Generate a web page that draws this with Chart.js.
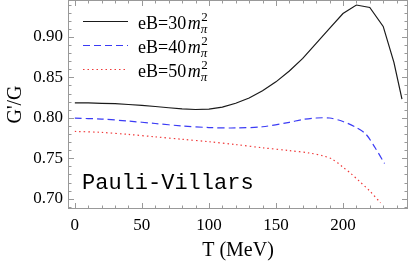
<!DOCTYPE html>
<html>
<head>
<meta charset="utf-8">
<script src="https://cdn.jsdelivr.net/npm/chart.js@4.4.1/dist/chart.umd.min.js"></script>
<style>
html, body { margin: 0; padding: 0; background: #fff; }
</style>
</head>
<body>
<canvas id="chart" width="409" height="267"></canvas>
<script>
// Data
const temp30 = [0, 10, 20, 30, 40, 50, 60, 70, 80, 90, 100, 110, 120, 130, 140, 150, 160, 170, 180, 190, 200, 210, 220, 230, 238, 244];
const ratio30 = [0.8185, 0.8185, 0.818, 0.8175, 0.8165, 0.8155, 0.814, 0.8125, 0.811, 0.8103, 0.8108, 0.8133, 0.818, 0.8245, 0.8335, 0.8445, 0.858, 0.8735, 0.892, 0.9105, 0.929, 0.9395, 0.9365, 0.913, 0.8685, 0.823];

const temp40 = [0, 20, 40, 60, 80, 100, 120, 140, 160, 170, 180, 190, 200, 210, 217, 224, 231];
const ratio40 = [0.7996, 0.7985, 0.796, 0.793, 0.790, 0.788, 0.7875, 0.789, 0.7945, 0.798, 0.7998, 0.7998, 0.7955, 0.788, 0.780, 0.763, 0.7436];

const temp50 = [0, 20, 40, 60, 80, 100, 120, 140, 160, 175, 185, 192, 200, 206, 212, 220, 228];
const ratio50 = [0.7832, 0.782, 0.7795, 0.7765, 0.7735, 0.7705, 0.767, 0.763, 0.7595, 0.7565, 0.753, 0.749, 0.739, 0.731, 0.722, 0.7095, 0.695];

const fieldLabels = ['eB=30', 'eB=40', 'eB=50'];
const xTickLabels = [0, 50, 100, 150, 200];
const yTickLabels = [0.70, 0.75, 0.80, 0.85, 0.90];

const serif = 'Liberation Serif';
const frameColor = '#999999';

function toPoints(xs, ys) {
    return xs.map((x, i) => ({ x: x, y: ys[i] }));
}

// Mathematica-style frame with inward ticks on all four sides
const frameTicks = {
    id: 'frameTicks',
    afterDatasetsDraw(chart) {
        const { ctx, chartArea: a, scales: { x, y } } = chart;
        ctx.save();
        ctx.strokeStyle = frameColor;
        ctx.lineWidth = 1;
        ctx.strokeRect(a.left + 0.5, a.top + 0.5, a.right - a.left - 1, a.bottom - a.top - 1);
        ctx.beginPath();
        for (let t = 0; t <= 240; t += 10) {
            const px = Math.round(x.getPixelForValue(t)) + 0.5;
            const len = t % 50 === 0 ? 6 : 3.5;
            ctx.moveTo(px, a.bottom);
            ctx.lineTo(px, a.bottom - len);
            ctx.moveTo(px, a.top);
            ctx.lineTo(px, a.top + len);
        }
        for (let k = 69; k <= 94; k++) {
            const v = k / 100;
            const py = Math.round(y.getPixelForValue(v)) + 0.5;
            const len = k % 5 === 0 ? 6 : 3.5;
            ctx.moveTo(a.left, py);
            ctx.lineTo(a.left + len, py);
            ctx.moveTo(a.right, py);
            ctx.lineTo(a.right - len, py);
        }
        ctx.stroke();
        ctx.restore();
    }
};

// Legend with m_pi^2 and the scheme name
const legendNotes = {
    id: 'legendNotes',
    afterDraw(chart) {
        const ctx = chart.ctx;
        ctx.save();
        chart.data.datasets.forEach((ds, i) => {
            const ly = 21 + i * 24;
            ctx.strokeStyle = ds.borderColor;
            ctx.lineWidth = ds.borderWidth;
            ctx.setLineDash(ds.borderDash || []);
            ctx.beginPath();
            ctx.moveTo(83, ly + 0.5);
            ctx.lineTo(128, ly + 0.5);
            ctx.stroke();
            ctx.setLineDash([]);

            ctx.fillStyle = '#000';
            ctx.textBaseline = 'alphabetic';
            ctx.textAlign = 'left';
            let tx = 138;
            const base = ly + 8;
            ctx.font = '18px "' + serif + '"';
            ctx.fillText(fieldLabels[i], tx, base);
            tx += ctx.measureText(fieldLabels[i]).width + 1.5;
            ctx.font = 'italic 18px "' + serif + '"';
            ctx.fillText('m', tx, base);
            tx += ctx.measureText('m').width;
            ctx.font = 'italic 13px "' + serif + '"';
            ctx.fillText('\u03c0', tx, base + 4);
            ctx.font = '13px "' + serif + '"';
            ctx.fillText('2', tx + 0.5, base - 8);
        });
        ctx.font = '22px "Liberation Mono"';
        ctx.fillStyle = '#000';
        ctx.fillText('Pauli-Villars', 82, 189);
        ctx.restore();
    }
};

new Chart(document.getElementById('chart'), {
    type: 'line',
    data: {
        datasets: [
            {
                label: fieldLabels[0],
                data: toPoints(temp30, ratio30),
                borderColor: '#1a1a1a',
                borderWidth: 1.2,
                tension: 0
            },
            {
                label: fieldLabels[1],
                data: toPoints(temp40, ratio40),
                borderColor: '#3b3bf5',
                borderWidth: 1.2,
                borderDash: [7, 4],
                tension: 0.3
            },
            {
                label: fieldLabels[2],
                data: toPoints(temp50, ratio50),
                borderColor: '#f03a3a',
                borderWidth: 1.2,
                borderDash: [1.5, 3],
                tension: 0.3
            }
        ]
    },
    options: {
        responsive: false,
        animation: false,
        layout: { padding: { top: 0, right: 1, left: 0, bottom: 0 } },
        elements: { point: { radius: 0 } },
        plugins: {
            legend: { display: false },
            tooltip: { enabled: false }
        },
        scales: {
            x: {
                type: 'linear',
                min: -5.1,
                max: 248.5,
                grid: { display: false, drawTicks: false },
                border: { display: false },
                afterBuildTicks: (scale) => { scale.ticks = xTickLabels.map(v => ({ value: v })); },
                afterFit: (scale) => {
                    scale.height = 58;
                    scale.paddingLeft = 0;
                    scale.paddingRight = 0;
                },
                ticks: {
                    color: '#000',
                    padding: 6,
                    maxRotation: 0,
                    font: { family: serif, size: 17 }
                },
                title: {
                    display: true,
                    text: 'T (MeV)',
                    color: '#000',
                    padding: { top: 2, bottom: 4 },
                    font: { family: serif, size: 20 }
                }
            },
            y: {
                type: 'linear',
                min: 0.6873,
                max: 0.9457,
                grid: { display: false, drawTicks: false },
                border: { display: false },
                afterBuildTicks: (scale) => { scale.ticks = yTickLabels.map(v => ({ value: v })); },
                afterFit: (scale) => {
                    scale.width = 68;
                    scale.paddingTop = 0;
                    scale.paddingBottom = 0;
                },
                ticks: {
                    color: '#000',
                    padding: 5,
                    font: { family: serif, size: 17 },
                    callback: (v) => v.toFixed(2)
                },
                title: {
                    display: true,
                    text: "G'/G",
                    color: '#000',
                    padding: { bottom: 0 },
                    font: { family: serif, size: 20 }
                }
            }
        }
    },
    plugins: [frameTicks, legendNotes]
});
</script>
</body>
</html>
